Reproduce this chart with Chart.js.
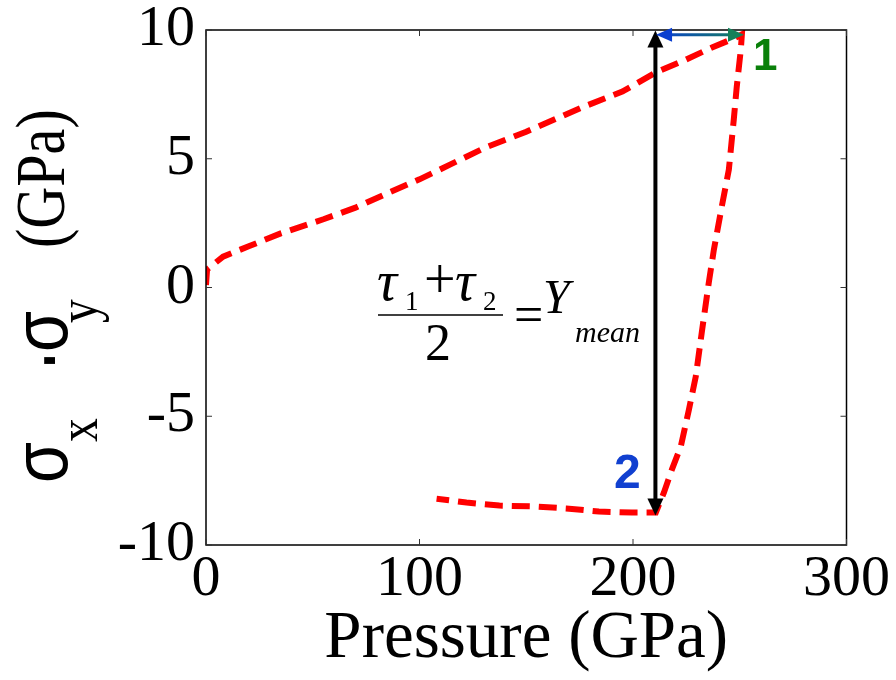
<!DOCTYPE html>
<html>
<head>
<meta charset="utf-8">
<script src="https://cdn.jsdelivr.net/npm/chart.js@4"></script>
<style>
  html, body { margin: 0; padding: 0; background: #fff; }
  #wrap { width: 896px; height: 680px; }
</style>
</head>
<body>
<div id="wrap"><canvas id="stressChart" width="896" height="680"></canvas></div>
<script>
// pressure (GPa) and sigma_x - sigma_y (GPa) in drawing order
const pressure = [0, 0.5, 8, 20, 35, 55, 70, 86, 100, 115, 131, 150, 176, 195, 210.7, 224.8, 237, 248, 251,
                  250.5, 248.6, 247.2, 244.9, 241.6, 237.9, 235.5, 232.2, 229.4, 226.2, 222.4, 218.2, 214.5, 210.7,
                  199.5, 184, 168.7, 152.8, 137.4, 122, 108];
const stress = [0.1, 0.7, 1.2, 1.6, 2.1, 2.65, 3.1, 3.7, 4.2, 4.8, 5.44, 6.05, 6.99, 7.61, 8.35, 8.85, 9.32, 9.7, 9.83,
                9.24, 7.8, 6.52, 4.58, 3.15, 1.48, 0.19, -1.75, -3.46, -4.74, -6.17, -7.07, -7.96, -8.74,
                -8.74, -8.7, -8.58, -8.5, -8.47, -8.35, -8.2];

const xTicks = [0, 100, 200, 300];
const yTicks = [-10, -5, 0, 5, 10];

const SERIF = "'Liberation Serif', 'Times New Roman', serif";
const SANS = "'Liberation Sans', Arial, sans-serif";

// frame with inward ticks on all four sides, y title, arrows and the formula
const decorations = {
    id: 'decorations',
    afterDatasetsDraw(chart) {
        const ctx = chart.ctx;
        const a = chart.chartArea;
        const xs = chart.scales.x, ys = chart.scales.y;

        ctx.save();
        ctx.strokeStyle = '#000';
        ctx.lineWidth = 1.5;
        ctx.strokeRect(a.left, a.top, a.right - a.left, a.bottom - a.top);
        ctx.lineWidth = 1;
        ctx.strokeStyle = '#333';
        const tl = 6;
        xTicks.forEach(v => {
            const px = xs.getPixelForValue(v);
            ctx.beginPath();
            ctx.moveTo(px, a.bottom); ctx.lineTo(px, a.bottom - tl);
            ctx.moveTo(px, a.top); ctx.lineTo(px, a.top + tl);
            ctx.stroke();
        });
        yTicks.forEach(v => {
            const py = ys.getPixelForValue(v);
            ctx.beginPath();
            ctx.moveTo(a.left, py); ctx.lineTo(a.left + tl, py);
            ctx.moveTo(a.right, py); ctx.lineTo(a.right - tl, py);
            ctx.stroke();
        });

        // vertical black double arrow at P ~ 210.5
        const vx = xs.getPixelForValue(210.5);
        const vTop = ys.getPixelForValue(9.98);
        const vBot = ys.getPixelForValue(-8.85);
        ctx.strokeStyle = '#000';
        ctx.fillStyle = '#000';
        ctx.lineWidth = 4;
        ctx.beginPath();
        ctx.moveTo(vx, vTop + 12); ctx.lineTo(vx, vBot - 12);
        ctx.stroke();
        ctx.beginPath();
        ctx.moveTo(vx, vTop); ctx.lineTo(vx - 8, vTop + 17); ctx.lineTo(vx + 8, vTop + 17); ctx.closePath();
        ctx.fill();
        ctx.beginPath();
        ctx.moveTo(vx, vBot); ctx.lineTo(vx - 8, vBot - 17); ctx.lineTo(vx + 8, vBot - 17); ctx.closePath();
        ctx.fill();

        // horizontal blue->green double arrow
        const hy = ys.getPixelForValue(9.82);
        const hx1 = xs.getPixelForValue(210.8);
        const hx2 = xs.getPixelForValue(252);
        const grad = ctx.createLinearGradient(hx1, 0, hx2, 0);
        grad.addColorStop(0, '#0a3fd0');
        grad.addColorStop(1, '#15805a');
        ctx.strokeStyle = grad;
        ctx.lineWidth = 3;
        ctx.beginPath();
        ctx.moveTo(hx1 + 10, hy); ctx.lineTo(hx2 - 10, hy);
        ctx.stroke();
        ctx.fillStyle = '#0a3fd0';
        ctx.beginPath();
        ctx.moveTo(hx1, hy); ctx.lineTo(hx1 + 16, hy - 7); ctx.lineTo(hx1 + 16, hy + 7); ctx.closePath();
        ctx.fill();
        ctx.fillStyle = '#15805a';
        ctx.beginPath();
        ctx.moveTo(hx2, hy); ctx.lineTo(hx2 - 16, hy - 7); ctx.lineTo(hx2 - 16, hy + 7); ctx.closePath();
        ctx.fill();

        // point labels
        ctx.textAlign = 'left';
        ctx.textBaseline = 'alphabetic';
        ctx.font = 'bold 44px ' + SANS;
        ctx.fillStyle = '#0a800a';
        ctx.fillText('1', 753, 70);
        ctx.font = 'bold 48px ' + SANS;
        ctx.fillStyle = '#1140d0';
        ctx.fillText('2', 614, 488);

        // formula (tau1 + tau2)/2 = Y_mean
        ctx.fillStyle = '#000';
        ctx.font = 'italic 56px ' + SERIF;
        ctx.fillText('\u03c4', 377, 300);
        ctx.fillText('\u03c4', 455, 300);
        ctx.font = '27px ' + SERIF;
        ctx.fillText('1', 405, 310);
        ctx.fillText('2', 483, 310);
        ctx.font = '56px ' + SERIF;
        ctx.fillText('+', 424, 298);
        ctx.font = '52px ' + SERIF;
        ctx.fillText('=', 514, 332);
        ctx.textAlign = 'center';
        ctx.fillText('2', 438, 360);
        ctx.textAlign = 'left';
        ctx.font = 'italic 48px ' + SERIF;
        ctx.fillText('Y', 543, 313);
        ctx.font = 'italic 30px ' + SERIF;
        ctx.fillText('mean', 575, 342);
        ctx.strokeStyle = '#000';
        ctx.lineWidth = 1.5;
        ctx.beginPath();
        ctx.moveTo(378, 315); ctx.lineTo(503, 315);
        ctx.stroke();

        // rotated y title: sigma_x - sigma_y (GPa)
        const piece = (text, font, startY, baseX, sx) => {
            ctx.save();
            ctx.translate(baseX, startY);
            ctx.rotate(-Math.PI / 2);
            ctx.scale(sx, 1);
            ctx.font = font;
            ctx.fillText(text, 0, 0);
            ctx.restore();
        };
        piece('\u03c3', '78px ' + SANS, 483, 67, 0.85);
        piece('x', '56px ' + SERIF, 442, 97, 0.85);
        piece('-', 'bold 90px ' + SANS, 365, 73, 0.3);
        piece('\u03c3', '78px ' + SANS, 352, 67, 0.85);
        piece('y', '56px ' + SERIF, 323, 97, 0.85);
        piece('(GPa)', '70px ' + SERIF, 248, 64, 0.83);
        ctx.restore();
    }
};

const points = pressure.map((p, i) => ({ x: p, y: stress[i] }));

new Chart(document.getElementById('stressChart').getContext('2d'), {
    type: 'scatter',
    data: {
        datasets: [{
            data: points,
            showLine: true,
            borderColor: '#ff0000',
            borderWidth: 6,
            borderDash: [18, 9],
            pointRadius: 0,
            tension: 0,
            fill: false
        }]
    },
    options: {
        responsive: false,
        animation: false,
        layout: { padding: { top: 30, right: 48, left: 0, bottom: 0 } },
        plugins: { legend: { display: false }, tooltip: { enabled: false } },
        scales: {
            x: {
                type: 'linear',
                min: 0,
                max: 300,
                afterBuildTicks: s => { s.ticks = xTicks.map(v => ({ value: v })); },
                afterFit: s => { s.height = 135; },
                grid: { display: false, drawTicks: false },
                border: { display: false },
                ticks: { color: '#000', padding: 6, font: { family: SERIF, size: 58, lineHeight: 1 } },
                title: {
                    display: true,
                    text: 'Pressure (GPa)',
                    color: '#000',
                    padding: { top: 0, bottom: 0 },
                    font: { family: SERIF, size: 67, lineHeight: 1.2 }
                }
            },
            y: {
                type: 'linear',
                min: -10,
                max: 10,
                afterBuildTicks: s => { s.ticks = yTicks.map(v => ({ value: v })); },
                afterFit: s => { s.width = 206; },
                grid: { display: false, drawTicks: false },
                border: { display: false },
                ticks: { color: '#000', padding: 11, font: { family: SERIF, size: 58, lineHeight: 0.6 } }
            }
        }
    },
    plugins: [decorations]
});
</script>
</body>
</html>
